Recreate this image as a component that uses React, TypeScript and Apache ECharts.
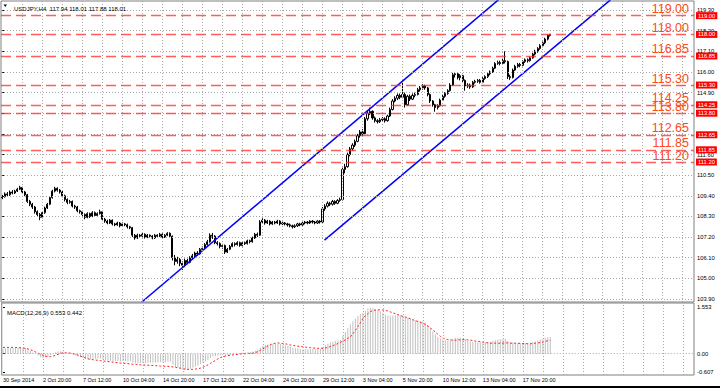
import React, { useEffect, useRef } from "react";
import * as echarts from "echarts";

const symbolTitle = "USDJPY,H4  117.94 118.01 117.88 118.01";
const macdTitle = "MACD(12,26,9) 0.553 0.442";
const timeLabels = ["30 Sep 2014", "2 Oct 20:00", "7 Oct 12:00", "10 Oct 04:00", "14 Oct 20:00", "17 Oct 12:00", "22 Oct 04:00", "24 Oct 20:00", "29 Oct 12:00", "3 Nov 04:00", "5 Nov 20:00", "10 Nov 12:00", "13 Nov 04:00", "17 Nov 20:00"];
const barsPerLabel = 16;
const barsPerGridLine = 8;
const totalSlots = 277;
const priceTicks = [119.3, 118.2, 117.1, 116.0, 114.9, 113.8, 112.7, 111.6, 110.5, 109.4, 108.3, 107.2, 106.1, 105.0, 103.9];
const levels = [119.0, 118.0, 116.85, 115.3, 114.25, 113.8, 112.65, 111.85, 111.2];
const macdTicks = [1.553, 0, -0.607];
const macdTickLabels = ["1.553", "0.00", "-0.607"];
const upperChannel = [[55.8, 103.74], [198.3, 119.84]];
const lowerChannel = [[128.8, 107.04], [243.1, 119.84]];

// [open, close, low, high]
const ohlc = [
  [109.30, 109.35, 109.22, 109.45], [109.35, 109.50, 109.30, 109.58], [109.50, 109.45, 109.38, 109.60], [109.45, 109.60, 109.40, 109.68],
  [109.60, 109.55, 109.48, 109.70], [109.55, 109.65, 109.50, 109.72], [109.65, 109.75, 109.60, 109.82], [109.75, 109.85, 109.70, 109.93],
  [109.85, 109.60, 109.52, 109.88], [109.60, 109.45, 109.38, 109.66], [109.45, 109.10, 109.02, 109.50], [109.10, 108.95, 108.85, 109.18],
  [108.95, 108.80, 108.70, 109.02], [108.80, 108.55, 108.45, 108.86], [108.55, 108.40, 108.30, 108.62], [108.40, 108.25, 108.10, 108.48],
  [108.25, 108.50, 108.20, 108.58], [108.50, 108.75, 108.44, 108.82], [108.75, 108.95, 108.70, 109.02], [108.95, 109.30, 108.90, 109.38],
  [109.30, 109.65, 109.25, 109.72], [109.65, 109.80, 109.58, 109.88], [109.80, 109.70, 109.62, 109.85], [109.70, 109.60, 109.52, 109.76],
  [109.60, 109.40, 109.32, 109.66], [109.40, 109.20, 109.10, 109.46], [109.20, 109.05, 108.95, 109.26], [109.05, 109.10, 108.98, 109.18],
  [109.10, 108.85, 108.78, 109.15], [108.85, 108.80, 108.70, 108.92], [108.80, 108.60, 108.52, 108.86], [108.60, 108.55, 108.45, 108.66],
  [108.55, 108.40, 108.30, 108.60], [108.40, 108.25, 108.15, 108.46], [108.25, 108.45, 108.20, 108.52], [108.45, 108.30, 108.22, 108.50],
  [108.30, 108.50, 108.26, 108.58], [108.50, 108.35, 108.28, 108.56], [108.35, 108.45, 108.30, 108.52], [108.45, 108.55, 108.40, 108.66],
  [108.55, 108.15, 108.05, 108.60], [108.15, 108.05, 107.96, 108.22], [108.05, 107.95, 107.88, 108.12], [107.95, 108.10, 107.90, 108.16],
  [108.10, 107.90, 107.82, 108.14], [107.90, 107.85, 107.78, 107.96], [107.85, 107.95, 107.80, 108.02], [107.95, 107.80, 107.72, 108.00],
  [107.80, 107.90, 107.75, 107.98], [107.90, 107.85, 107.78, 107.95], [107.85, 107.75, 107.66, 107.92], [107.75, 107.70, 107.62, 107.80],
  [107.70, 107.30, 107.20, 107.74], [107.30, 107.15, 107.06, 107.36], [107.15, 107.30, 107.10, 107.38], [107.30, 107.25, 107.16, 107.36],
  [107.25, 107.35, 107.20, 107.42], [107.35, 107.20, 107.12, 107.40], [107.20, 107.30, 107.14, 107.36], [107.30, 107.25, 107.18, 107.34],
  [107.25, 107.15, 107.08, 107.30], [107.15, 107.30, 107.10, 107.36], [107.30, 107.25, 107.18, 107.35], [107.25, 107.35, 107.20, 107.42],
  [107.35, 107.20, 107.12, 107.40], [107.20, 107.30, 107.15, 107.36], [107.30, 107.40, 107.25, 107.46], [107.40, 107.25, 107.18, 107.45],
  [107.25, 106.10, 105.95, 107.28], [106.10, 105.90, 105.70, 106.25], [105.90, 106.00, 105.78, 106.15], [106.00, 105.80, 105.65, 106.08],
  [105.80, 105.70, 105.45, 105.90], [105.70, 105.95, 105.60, 106.05], [105.95, 105.85, 105.75, 106.05], [105.85, 106.10, 105.80, 106.18],
  [106.10, 106.20, 106.00, 106.30], [106.20, 106.35, 106.12, 106.42], [106.35, 106.30, 106.20, 106.45], [106.30, 106.55, 106.26, 106.62],
  [106.55, 106.60, 106.45, 106.70], [106.60, 106.80, 106.55, 106.88], [106.80, 106.95, 106.74, 107.05], [106.95, 107.30, 106.90, 107.40],
  [107.30, 107.25, 107.10, 107.42], [107.25, 106.90, 106.82, 107.30], [106.90, 106.85, 106.75, 106.98], [106.85, 106.70, 106.60, 106.92],
  [106.70, 106.75, 106.58, 106.84], [106.75, 106.40, 106.30, 106.80], [106.40, 106.55, 106.35, 106.62], [106.55, 106.70, 106.50, 106.78],
  [106.70, 106.85, 106.66, 106.92], [106.85, 106.80, 106.70, 106.92], [106.80, 106.90, 106.74, 106.98], [106.90, 106.75, 106.68, 106.96],
  [106.75, 106.90, 106.70, 106.96], [106.90, 106.85, 106.78, 106.96], [106.85, 107.00, 106.80, 107.06], [107.00, 106.95, 106.86, 107.06],
  [106.95, 107.15, 106.90, 107.22], [107.15, 107.35, 107.10, 107.42], [107.35, 107.30, 107.20, 107.44], [107.30, 108.00, 107.26, 108.10],
  [108.00, 108.10, 107.92, 108.20], [108.10, 107.95, 107.86, 108.16], [107.95, 108.05, 107.90, 108.12], [108.05, 107.90, 107.82, 108.10],
  [107.90, 108.00, 107.85, 108.06], [108.00, 107.95, 107.88, 108.06], [107.95, 108.05, 107.90, 108.12], [108.05, 107.90, 107.82, 108.10],
  [107.90, 107.95, 107.84, 108.02], [107.95, 107.90, 107.82, 108.00], [107.90, 107.85, 107.76, 107.96], [107.85, 107.80, 107.72, 107.92],
  [107.80, 107.75, 107.66, 107.86], [107.75, 107.80, 107.68, 107.88], [107.80, 107.90, 107.74, 107.96], [107.90, 107.85, 107.78, 107.96],
  [107.85, 107.95, 107.80, 108.02], [107.95, 108.00, 107.88, 108.06], [108.00, 107.95, 107.88, 108.06], [107.95, 108.05, 107.90, 108.10],
  [108.05, 108.00, 107.92, 108.10], [108.00, 107.95, 107.88, 108.06], [107.95, 108.05, 107.90, 108.10], [108.05, 108.00, 107.92, 108.10],
  [108.00, 108.70, 107.96, 108.80], [108.70, 108.85, 108.60, 108.95], [108.85, 109.00, 108.78, 109.10], [109.00, 108.95, 108.85, 109.08],
  [108.95, 109.10, 108.88, 109.18], [109.10, 109.00, 108.92, 109.16], [109.00, 109.15, 108.95, 109.22], [109.15, 109.20, 109.08, 109.30],
  [109.20, 110.80, 109.15, 110.90], [110.80, 110.95, 110.60, 111.10], [110.95, 111.60, 110.90, 111.70], [111.60, 111.90, 111.50, 112.00],
  [111.90, 112.10, 111.80, 112.20], [112.10, 112.30, 112.00, 112.40], [112.30, 112.60, 112.25, 112.70], [112.60, 112.80, 112.50, 112.90],
  [112.80, 112.70, 112.55, 112.95], [112.70, 113.50, 112.65, 113.60], [113.50, 113.80, 113.40, 113.95], [113.80, 113.90, 113.70, 114.10],
  [113.90, 113.55, 113.45, 113.95], [113.55, 113.40, 113.30, 113.62], [113.40, 113.35, 113.25, 113.48], [113.35, 113.45, 113.28, 113.55],
  [113.45, 113.50, 113.35, 113.60], [113.50, 113.40, 113.30, 113.58], [113.40, 113.65, 113.35, 113.72], [113.65, 114.00, 113.60, 114.10],
  [114.00, 114.45, 113.95, 114.55], [114.45, 114.60, 114.38, 114.70], [114.60, 114.75, 114.50, 114.85], [114.75, 114.65, 114.55, 114.85],
  [114.65, 114.80, 114.60, 115.55], [114.80, 114.25, 114.10, 114.90], [114.25, 114.70, 114.20, 114.78], [114.70, 114.55, 114.45, 114.80],
  [114.55, 114.75, 114.50, 114.85], [114.75, 114.80, 114.65, 114.90], [114.80, 115.05, 114.75, 115.15], [115.05, 115.15, 114.95, 115.25],
  [115.15, 115.25, 115.05, 115.35], [115.25, 115.15, 115.05, 115.32], [115.15, 114.80, 114.70, 115.20], [114.80, 114.45, 114.35, 114.85],
  [114.45, 114.25, 114.15, 114.50], [114.25, 114.10, 113.88, 114.30], [114.10, 114.20, 114.00, 114.28], [114.20, 114.50, 114.15, 114.58],
  [114.50, 114.70, 114.45, 114.78], [114.70, 114.85, 114.62, 114.92], [114.85, 115.00, 114.78, 115.08], [115.00, 115.30, 114.95, 115.40],
  [115.30, 115.85, 115.25, 115.95], [115.85, 115.90, 115.70, 116.00], [115.90, 115.70, 115.60, 115.95], [115.70, 115.80, 115.55, 115.88],
  [115.80, 115.55, 115.45, 115.85], [115.55, 115.25, 115.00, 115.60], [115.25, 115.30, 115.15, 115.40], [115.30, 115.20, 115.10, 115.38],
  [115.20, 115.45, 115.15, 115.52], [115.45, 115.50, 115.38, 115.58], [115.50, 115.55, 115.42, 115.62], [115.55, 115.45, 115.38, 115.62],
  [115.45, 115.65, 115.40, 115.72], [115.65, 115.75, 115.58, 115.82], [115.75, 115.90, 115.68, 115.98], [115.90, 116.00, 115.82, 116.08],
  [116.00, 116.20, 115.95, 116.28], [116.20, 116.45, 116.15, 116.52], [116.45, 116.50, 116.38, 116.60], [116.50, 116.45, 116.35, 116.60],
  [116.45, 116.60, 116.40, 116.70], [116.60, 116.55, 116.45, 117.10], [116.55, 115.75, 115.62, 116.60], [115.75, 115.70, 115.58, 115.85],
  [115.70, 116.10, 115.65, 116.18], [116.10, 116.30, 116.05, 116.38], [116.30, 116.40, 116.22, 116.48], [116.40, 116.35, 116.25, 116.48],
  [116.35, 116.55, 116.30, 116.62], [116.55, 116.65, 116.48, 116.72], [116.65, 116.60, 116.50, 116.72], [116.60, 116.75, 116.55, 116.82],
  [116.75, 116.95, 116.70, 117.02], [116.95, 117.10, 116.88, 117.18], [117.10, 117.25, 117.02, 117.32], [117.25, 117.40, 117.18, 117.48],
  [117.40, 117.55, 117.32, 117.62], [117.55, 117.75, 117.48, 117.82], [117.75, 117.94, 117.68, 118.00], [117.94, 118.01, 117.88, 118.01],
];

const macdHist = [
  0.17, 0.18, 0.18, 0.19, 0.19, 0.20, 0.21, 0.22, 0.21, 0.19,
  0.14, 0.09, 0.04, -0.01, -0.06, -0.11, -0.13, -0.12, -0.09, -0.05,
  0.01, 0.05, 0.07, 0.08, 0.07, 0.05, 0.03, 0.01, -0.02, -0.05,
  -0.08, -0.11, -0.14, -0.17, -0.18, -0.19, -0.18, -0.17, -0.17, -0.16,
  -0.19, -0.21, -0.23, -0.23, -0.24, -0.24, -0.24, -0.25, -0.24, -0.24,
  -0.25, -0.25, -0.29, -0.31, -0.32, -0.32, -0.31, -0.31, -0.30, -0.30,
  -0.30, -0.29, -0.29, -0.28, -0.28, -0.28, -0.27, -0.27, -0.36, -0.43,
  -0.47, -0.51, -0.54, -0.53, -0.52, -0.50, -0.47, -0.43, -0.40, -0.35,
  -0.31, -0.26, -0.21, -0.14, -0.10, -0.08, -0.06, -0.06, -0.05, -0.07,
  -0.06, -0.04, -0.02, -0.01, 0.01, 0.02, 0.03, 0.04, 0.05, 0.06,
  0.07, 0.10, 0.12, 0.20, 0.26, 0.29, 0.31, 0.32, 0.33, 0.33,
  0.33, 0.32, 0.30, 0.28, 0.26, 0.23, 0.20, 0.18, 0.17, 0.15,
  0.15, 0.15, 0.15, 0.16, 0.16, 0.16, 0.16, 0.16, 0.22, 0.28,
  0.33, 0.37, 0.40, 0.42, 0.44, 0.46, 0.60, 0.72, 0.85, 0.98,
  1.08, 1.17, 1.25, 1.32, 1.36, 1.43, 1.50, 1.53, 1.52, 1.48,
  1.45, 1.41, 1.36, 1.30, 1.27, 1.26, 1.27, 1.28, 1.29, 1.28,
  1.27, 1.22, 1.20, 1.16, 1.13, 1.11, 1.10, 1.09, 1.08, 1.04,
  0.96, 0.85, 0.74, 0.64, 0.56, 0.51, 0.47, 0.45, 0.43, 0.44,
  0.50, 0.53, 0.53, 0.53, 0.51, 0.47, 0.44, 0.41, 0.40, 0.39,
  0.38, 0.37, 0.37, 0.37, 0.38, 0.40, 0.42, 0.45, 0.47, 0.48,
  0.49, 0.49, 0.43, 0.38, 0.37, 0.36, 0.36, 0.35, 0.36, 0.36,
  0.36, 0.37, 0.39, 0.41, 0.44, 0.47, 0.50, 0.53, 0.55, 0.553,
];

const macdSignal = [
  0.21, 0.21, 0.21, 0.21, 0.21, 0.21, 0.20, 0.20, 0.19, 0.18,
  0.16, 0.13, 0.10, 0.06, 0.02, -0.02, -0.05, -0.08, -0.10, -0.10,
  -0.08, -0.05, -0.02, 0.01, 0.03, 0.03, 0.03, 0.02, 0.00, -0.02,
  -0.05, -0.08, -0.11, -0.14, -0.17, -0.19, -0.20, -0.21, -0.22, -0.23,
  -0.24, -0.25, -0.26, -0.27, -0.28, -0.29, -0.30, -0.31, -0.32, -0.32,
  -0.33, -0.34, -0.35, -0.35, -0.36, -0.37, -0.37, -0.38, -0.38, -0.39,
  -0.39, -0.40, -0.40, -0.41, -0.41, -0.42, -0.42, -0.43, -0.44, -0.45,
  -0.47, -0.48, -0.50, -0.51, -0.52, -0.52, -0.52, -0.51, -0.50, -0.48,
  -0.45, -0.41, -0.37, -0.32, -0.27, -0.22, -0.17, -0.13, -0.10, -0.08,
  -0.06, -0.05, -0.04, -0.03, -0.02, -0.01, 0.00, 0.00, 0.01, 0.01,
  0.02, 0.04, 0.07, 0.11, 0.16, 0.21, 0.26, 0.30, 0.33, 0.35,
  0.36, 0.35, 0.34, 0.33, 0.31, 0.29, 0.28, 0.26, 0.25, 0.24,
  0.23, 0.22, 0.21, 0.20, 0.19, 0.19, 0.18, 0.18, 0.18, 0.19,
  0.21, 0.24, 0.27, 0.30, 0.34, 0.38, 0.42, 0.46, 0.51, 0.56,
  0.66, 0.78, 0.90, 1.03, 1.17, 1.26, 1.33, 1.40, 1.43, 1.45,
  1.46, 1.46, 1.45, 1.44, 1.42, 1.39, 1.36, 1.33, 1.30, 1.27,
  1.24, 1.22, 1.19, 1.16, 1.13, 1.10, 1.07, 1.04, 1.01, 0.97,
  0.92, 0.86, 0.79, 0.72, 0.65, 0.58, 0.52, 0.49, 0.47, 0.46,
  0.45, 0.45, 0.46, 0.46, 0.47, 0.47, 0.46, 0.45, 0.44, 0.42,
  0.41, 0.40, 0.39, 0.37, 0.36, 0.35, 0.35, 0.35, 0.35, 0.35,
  0.35, 0.36, 0.36, 0.35, 0.35, 0.35, 0.35, 0.34, 0.34, 0.34,
  0.33, 0.33, 0.34, 0.35, 0.36, 0.37, 0.39, 0.41, 0.43, 0.442,
];

const FONT = "'Liberation Sans', Arial, sans-serif";

export default function App() {
  const ref = useRef<HTMLDivElement>(null);
  useEffect(() => {
    if (!ref.current) return;
    const chart = echarts.init(ref.current, undefined, { renderer: "svg" });
    const cats = Array.from({ length: totalSlots }, (_, i) => String(i));
    const gridBars: number[] = [];
    for (let i = barsPerGridLine; i < totalSlots; i += barsPerGridLine) gridBars.push(i);
    const mkGridStyle = () => ({ color: "#a8a8a8", type: [1, 2], width: 1 });
    const markBase = { silent: true, symbol: ["none", "none"], label: { show: false }, emphasis: { disabled: true } };

    const option: any = {
      animation: false,
      backgroundColor: "#ffffff",
      textStyle: { fontFamily: FONT },
      title: [
        { text: symbolTitle, left: 9, top: 1, textStyle: { fontSize: 6, fontWeight: "normal", color: "#000", fontFamily: FONT } },
        { text: macdTitle, left: 2, top: 305, textStyle: { fontSize: 6, fontWeight: "normal", color: "#000", fontFamily: FONT } },
      ],
      graphic: [
        { type: "polygon", shape: { points: [[3.5, 4.5], [7, 4.5], [5.25, 7]] }, style: { fill: "#000" } },
        { type: "rect", shape: { x: 0, y: 386, width: 720, height: 2 }, style: { fill: "#000" } },
      ],
      grid: [
        { left: 1, top: 1, width: 693, height: 301, show: true, borderColor: "#808080", borderWidth: 1 },
        { left: 1, top: 303, width: 693, height: 72, show: true, borderColor: "#808080", borderWidth: 1 },
      ],
      xAxis: [
        { type: "category", gridIndex: 0, data: cats, boundaryGap: true, axisLine: { show: false }, axisTick: { show: false }, axisLabel: { show: false }, splitLine: { show: false } },
        {
          type: "category", gridIndex: 1, data: cats, boundaryGap: true, axisLine: { show: false }, axisTick: { show: false },
          axisLabel: {
            show: true, interval: (i: number) => i % barsPerLabel === 0 && i / barsPerLabel < timeLabels.length,
            formatter: (_v: string, i: number) => timeLabels[Math.round(i / barsPerLabel)] ?? "",
            align: "left", verticalAlign: "top", margin: 2, fontSize: 5.5, color: "#000", fontFamily: FONT,
          },
          splitLine: { show: false },
        },
        { type: "value", gridIndex: 0, min: -0.5, max: totalSlots - 0.5, show: false },
        { type: "value", gridIndex: 1, min: -0.5, max: totalSlots - 0.5, show: false },
      ],
      yAxis: [
        {
          type: "value", gridIndex: 0, position: "right", min: 103.74, max: 119.78, scale: true,
          axisLine: { show: false }, splitLine: { show: false },
          axisTick: { show: true, length: 2, customValues: priceTicks, lineStyle: { color: "#000" } },
          axisLabel: { customValues: priceTicks, formatter: (v: number) => v.toFixed(2), fontSize: 5.8, color: "#000", margin: 3, fontFamily: FONT },
        },
        {
          type: "value", gridIndex: 1, position: "right", min: -0.707, max: 1.686,
          axisLine: { show: false }, splitLine: { show: false },
          axisTick: { show: true, length: 2, customValues: macdTicks, lineStyle: { color: "#000" } },
          axisLabel: { customValues: macdTicks, formatter: (v: number) => macdTickLabels[macdTicks.findIndex((t) => Math.abs(t - v) < 1e-6)] ?? "", fontSize: 5.8, color: "#000", margin: 3, fontFamily: FONT },
        },
      ],
      series: [
        // main panel vertical grid
        { type: "line", xAxisIndex: 2, yAxisIndex: 0, data: [], z: 1, silent: true, markLine: { ...markBase, lineStyle: mkGridStyle(), data: gridBars.map((b) => ({ xAxis: b })) } },
        // main panel horizontal grid
        { type: "line", xAxisIndex: 2, yAxisIndex: 0, data: [], z: 1, silent: true, markLine: { ...markBase, lineStyle: mkGridStyle(), data: priceTicks.map((v) => ({ yAxis: v })) } },
        // macd panel vertical grid + zero line
        { type: "line", xAxisIndex: 3, yAxisIndex: 1, data: [], z: 1, silent: true, markLine: { ...markBase, lineStyle: mkGridStyle(), data: gridBars.map((b) => ({ xAxis: b })) } },
        { type: "line", xAxisIndex: 3, yAxisIndex: 1, data: [], z: 1, silent: true, markLine: { ...markBase, lineStyle: mkGridStyle(), data: [{ yAxis: 0 }] } },
        // red levels with axis boxes
        {
          type: "line", xAxisIndex: 2, yAxisIndex: 0, data: [], z: 2, silent: true,
          markLine: {
            silent: true, symbol: ["none", "none"], emphasis: { disabled: true },
            lineStyle: { color: "rgba(255,40,40,0.75)", type: [10, 5], width: 1.4 },
            label: { show: true, position: "end", distance: 2, formatter: (p: any) => Number(p.value).toFixed(2), backgroundColor: "#ff0000", color: "#ffffff", fontSize: 5.8, padding: [1, 2, 0, 2], fontFamily: FONT },
            data: levels.map((v) => ({ yAxis: v })),
          },
        },
        // big level captions
        {
          type: "line", xAxisIndex: 2, yAxisIndex: 0, data: [], z: 5, silent: true,
          markLine: {
            silent: true, symbol: ["none", "none"], emphasis: { disabled: true },
            lineStyle: { color: "rgba(255,255,255,0)", width: 1 },
            label: { show: true, position: "insideEndTop", distance: [5, 0], formatter: (p: any) => Number(p.value).toFixed(2), color: "#ff4a14", fontSize: 12.5, fontFamily: FONT },
            data: levels.map((v) => ({ yAxis: v })),
          },
        },
        {
          type: "candlestick", xAxisIndex: 0, yAxisIndex: 0, data: ohlc, z: 3, barWidth: 1.6,
          itemStyle: { color: "#ffffff", color0: "#000000", borderColor: "#000000", borderColor0: "#000000", borderWidth: 1 },
        },
        { type: "line", xAxisIndex: 2, yAxisIndex: 0, data: upperChannel, z: 4, showSymbol: false, symbol: "none", lineStyle: { color: "#0000ff", width: 1.5 }, silent: true },
        { type: "line", xAxisIndex: 2, yAxisIndex: 0, data: lowerChannel, z: 4, showSymbol: false, symbol: "none", lineStyle: { color: "#0000ff", width: 1.5 }, silent: true },
        { type: "bar", xAxisIndex: 1, yAxisIndex: 1, data: macdHist, barWidth: 1, itemStyle: { color: "#c0c0c0" }, z: 2, silent: true },
        { type: "line", xAxisIndex: 1, yAxisIndex: 1, data: macdSignal, showSymbol: false, symbol: "none", z: 3, lineStyle: { color: "#ff2020", type: [2, 2], width: 1 }, silent: true },
      ],
    };
    chart.setOption(option);
    return () => chart.dispose();
  }, []);
  return <div ref={ref} style={{ position: "fixed", left: 0, top: 0, width: 720, height: 388 }} />;
}
